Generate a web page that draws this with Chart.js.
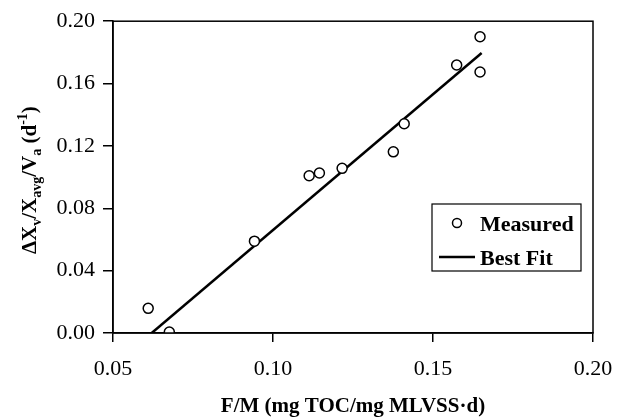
<!DOCTYPE html>
<html>
<head>
<meta charset="utf-8">
<script src="https://cdn.jsdelivr.net/npm/chart.js@4.4.1/dist/chart.umd.min.js"></script>
<style>
  html, body { margin: 0; padding: 0; background: #fff; }
  #wrap { width: 623px; height: 419px; }
</style>
</head>
<body>
<div id="wrap"><canvas id="grafico" width="623" height="419"></canvas></div>
<script>
// ==========================
// DADOS
// ==========================
const measuredX = [0.0610, 0.0676, 0.0942, 0.1113, 0.1145, 0.1216, 0.1376, 0.1410, 0.1574, 0.1647, 0.1647];
const measuredY = [0.0158, 0.0006, 0.0589, 0.1009, 0.1026, 0.1056, 0.1162, 0.1342, 0.1719, 0.1900, 0.1674];
const fitX = [0.0621, 0.1652];
const fitY = [0.0000, 0.1796];
const xTicks = [0.05, 0.10, 0.15, 0.20];
const yTicks = [0.00, 0.04, 0.08, 0.12, 0.16, 0.20];

const serif = "'Liberation Serif', 'Times New Roman', serif";

// caixa do gráfico + título do eixo Y (com subscritos) + legenda
const extras = {
  id: "extras",
  afterDraw(chart) {
    const { ctx, chartArea: a } = chart;
    ctx.save();
    ctx.strokeStyle = "#000";
    ctx.lineWidth = 1.5;
    ctx.strokeRect(a.left, a.top, a.right - a.left, a.bottom - a.top);

    // título Y
    const big = "bold 21px " + serif, small = "bold 14px " + serif;
    const parts = [
      { t: "\u0394X", f: big, dy: 0 },
      { t: "v", f: small, dy: 5 },
      { t: "/X", f: big, dy: 0 },
      { t: "avg", f: small, dy: 5 },
      { t: "/V", f: big, dy: 0 },
      { t: "a", f: small, dy: 5 },
      { t: " (d", f: big, dy: 0 },
      { t: "-1", f: small, dy: -9 },
      { t: ")", f: big, dy: 0 }
    ];
    let w = 0;
    parts.forEach(p => { ctx.font = p.f; w += ctx.measureText(p.t).width; });
    ctx.translate(36, (a.top + a.bottom) / 2 + 3);
    ctx.rotate(-Math.PI / 2);
    ctx.fillStyle = "#000";
    ctx.textBaseline = "alphabetic";
    let x = -w / 2;
    parts.forEach(p => {
      ctx.font = p.f;
      ctx.fillText(p.t, x, p.dy);
      x += ctx.measureText(p.t).width;
    });
    ctx.restore();

    // legenda
    ctx.save();
    const bx = a.right - 161, by = a.bottom - 129, bw = 149, bh = 67;
    ctx.fillStyle = "#fff";
    ctx.fillRect(bx, by, bw, bh);
    ctx.strokeStyle = "#000";
    ctx.lineWidth = 1.2;
    ctx.strokeRect(bx, by, bw, bh);
    ctx.beginPath();
    ctx.lineWidth = 1.5;
    ctx.arc(bx + 25, by + 19, 4.5, 0, Math.PI * 2);
    ctx.stroke();
    ctx.beginPath();
    ctx.lineWidth = 2.5;
    ctx.moveTo(bx + 7, by + 53);
    ctx.lineTo(bx + 43, by + 53);
    ctx.stroke();
    ctx.fillStyle = "#000";
    ctx.font = "bold 22px " + serif;
    ctx.textBaseline = "alphabetic";
    ctx.fillText("Measured", bx + 48, by + 27);
    ctx.fillText("Best Fit", bx + 48, by + 61);
    ctx.restore();
  }
};

new Chart(document.getElementById("grafico"), {
  type: "scatter",
  data: {
    datasets: [
      {
        label: "Measured",
        data: measuredX.map((x, i) => ({ x, y: measuredY[i] })),
        pointStyle: "circle",
        pointRadius: 5,
        pointBorderWidth: 1.5,
        borderColor: "#000",
        backgroundColor: "#fff",
        order: 1
      },
      {
        label: "Best Fit",
        type: "line",
        data: fitX.map((x, i) => ({ x, y: fitY[i] })),
        borderColor: "#000",
        borderWidth: 2.5,
        pointRadius: 0,
        fill: false,
        order: 2
      }
    ]
  },
  options: {
    responsive: false,
    animation: false,
    layout: { padding: { top: 20, right: 30, left: 0, bottom: 0 } },
    plugins: { legend: { display: false }, tooltip: { enabled: false } },
    scales: {
      x: {
        type: "linear",
        min: 0.05, max: 0.20,
        afterBuildTicks: s => { s.ticks = xTicks.map(v => ({ value: v })); },
        afterFit: s => { s.height = 86; s.paddingRight = 0; s.paddingLeft = 0; },
        grid: { drawOnChartArea: false, color: "#000", tickLength: 9, lineWidth: 1.5 },
        border: { color: "#000", width: 1.5 },
        ticks: { color: "#000", font: { family: serif, size: 22 }, padding: 14, maxRotation: 0,
                 callback: v => v.toFixed(2) },
        title: { display: true, text: "F/M (mg TOC/mg MLVSS\u00B7d)", color: "#000",
                 font: { family: serif, size: 21, weight: "bold" }, padding: { top: 0, bottom: 0 } }
      },
      y: {
        min: 0, max: 0.20,
        afterBuildTicks: s => { s.ticks = yTicks.map(v => ({ value: v })); },
        afterFit: s => { s.width = 113; },
        grid: { drawOnChartArea: false, color: "#000", tickLength: 10, lineWidth: 1.5 },
        border: { color: "#000", width: 1.5 },
        ticks: { color: "#000", font: { family: serif, size: 22 }, padding: 8,
                 callback: v => v.toFixed(2) }
      }
    }
  },
  plugins: [extras]
});
</script>
</body>
</html>
